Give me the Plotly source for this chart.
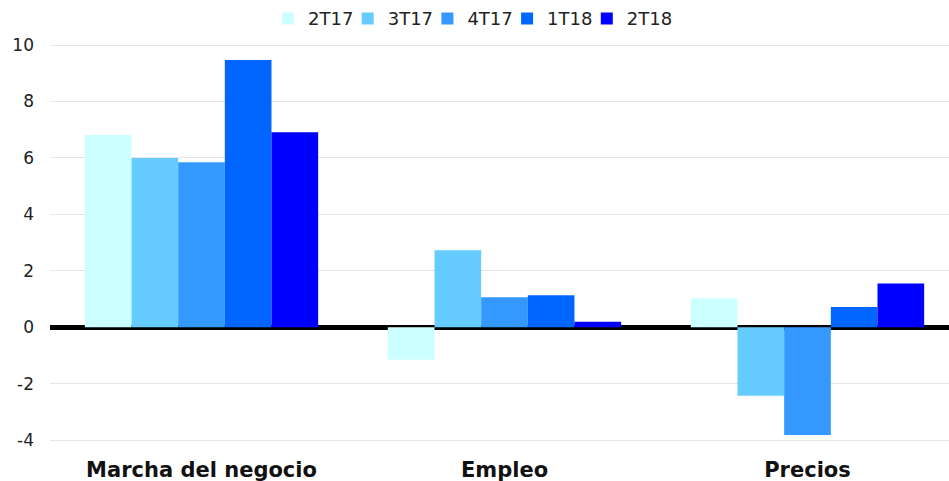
import plotly.graph_objects as go

categories = ["Marcha del negocio", "Empleo", "Precios"]
series_names = ["2T17", "3T17", "4T17", "1T18", "2T18"]
v_2T17 = [6.81, -1.15, 1.03]
v_3T17 = [6.00, 2.73, -2.43]
v_4T17 = [5.85, 1.06, -3.82]
v_1T18 = [9.47, 1.13, 0.72]
v_2T18 = [6.91, 0.19, 1.55]
colors = ["#CCFFFF", "#66CCFF", "#3399FF", "#0066FF", "#0000FF"]
y_ticks = [-4, -2, 0, 2, 4, 6, 8, 10]
y_tick_labels = ["-4", "-2", "0", "2", "4", "6", "8", "10"]

W, H = 949, 481

fig = go.Figure()
for name, vals, col in zip(series_names, [v_2T17, v_3T17, v_4T17, v_1T18, v_2T18], colors):
    fig.add_trace(go.Bar(x=categories, y=vals, name=name,
                         marker=dict(color=col, line=dict(width=0))))
# blank legend spacer so the last legend label is not clipped
fig.add_trace(go.Scatter(x=[None], y=[None], mode="markers", name="",
                         marker=dict(color="rgba(0,0,0,0)"), hoverinfo="skip"))

fig.update_layout(
    width=W, height=H,
    margin=dict(l=50, r=0, t=40, b=26, autoexpand=False),
    paper_bgcolor="white", plot_bgcolor="white",
    barmode="group", bargap=0.23, bargroupgap=0,
    font=dict(family="DejaVu Sans", size=17, color="#222222"),
    legend=dict(orientation="h", xref="container", yref="container",
                x=0.2824, xanchor="left", y=0.961, yanchor="middle",
                font=dict(size=18, color="#222222"), itemclick=False,
                entrywidth=34.7, entrywidthmode="pixels",
                traceorder="normal"),
    xaxis=dict(range=[-0.5, 2.467], showgrid=False, showline=False, ticks="",
               automargin=False,
               tickfont=dict(size=21, family="DejaVu Sans", color="#111111", weight="bold")),
    yaxis=dict(range=[-4.53, 10.18], tickvals=y_ticks, ticktext=y_tick_labels,
               automargin=False, showgrid=True, gridcolor="#e6e6e6",
               gridwidth=1, zeroline=True, zerolinecolor="black", zerolinewidth=5,
               showline=False, ticks="", ticklabelstandoff=15,
               tickfont=dict(size=17, color="#222222")),
)

fig.write_html(
    "out.html",
    config={"displayModeBar": False},
    post_script="document.body.style.margin='0';document.body.style.overflow='hidden';",
)
